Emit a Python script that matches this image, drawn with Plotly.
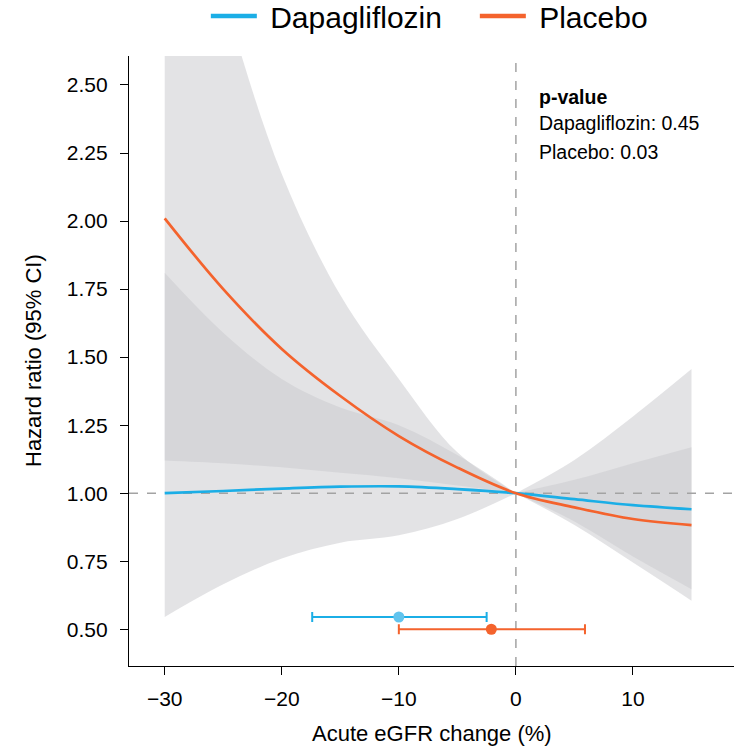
import plotly.graph_objects as go

# Acute eGFR change grid (%) at which the spline estimates are reported
egfr_change = [-30, -25, -20, -15, -10, -5, 0, 5, 10, 15]

# Dapagliflozin: hazard ratio and 95% CI
dapa_hr = [1.000, 1.008, 1.017, 1.024, 1.025, 1.015, 1.000, 0.978, 0.956, 0.941]
dapa_lo = [0.545, 0.665, 0.760, 0.818, 0.845, 0.905, 1.000, 0.883, 0.745, 0.605]
dapa_hi = [1.810, 1.590, 1.420, 1.315, 1.250, 1.140, 1.000, 1.122, 1.282, 1.456]

# Placebo: hazard ratio and 95% CI
plac_hr = [2.010, 1.750, 1.530, 1.357, 1.210, 1.094, 1.000, 0.948, 0.905, 0.883]
plac_lo = [1.120, 1.110, 1.095, 1.075, 1.055, 1.028, 1.000, 0.896, 0.767, 0.647]
plac_hi = [3.600, 2.830, 2.173, 1.728, 1.420, 1.150, 1.000, 1.049, 1.110, 1.169]

# Distribution of acute eGFR change by arm: median and interquartile range
arm_names = ["Dapagliflozin", "Placebo"]
change_mid = [-10.0, -2.1]
change_q1 = [-17.4, -10.0]
change_q3 = [-2.5, 5.9]

# p-values for the non-linear association
p_values = {"Dapagliflozin": "0.45", "Placebo": "0.03"}

BLUE = "#1BAEE6"
BLUE_PT = "#62C4EE"
ORANGE = "#F4632D"
BAND = "rgba(203,204,207,0.54)"
REF = "#A3A3A3"
FONT = "Liberation Sans, Arial, Helvetica, sans-serif"

X_RANGE = [-33.05, 18.63]
Y_RANGE = [0.365, 2.6065]
BAR_Y = [0.545, 0.50]

fig = go.Figure()

# Confidence bands, drawn separately either side of the reference point (0 %)
split = egfr_change.index(0)
for lo, hi in ((dapa_lo, dapa_hi), (plac_lo, plac_hi)):
    for sl in (slice(0, split + 1), slice(split, None)):
        xs = egfr_change[sl]
        fig.add_trace(go.Scatter(x=xs, y=lo[sl], mode="lines",
                                 line=dict(width=0, shape="spline", color=BAND),
                                 showlegend=False, hoverinfo="skip"))
        fig.add_trace(go.Scatter(x=xs, y=hi[sl], mode="lines", fill="tonexty",
                                 fillcolor=BAND,
                                 line=dict(width=0, shape="spline", color=BAND),
                                 showlegend=False, hoverinfo="skip"))

# Reference lines: HR = 1 and no eGFR change
fig.add_trace(go.Scatter(x=X_RANGE, y=[1, 1], mode="lines",
                         line=dict(color=REF, width=1.5, dash="dash"),
                         showlegend=False, hoverinfo="skip"))
fig.add_trace(go.Scatter(x=[0, 0], y=Y_RANGE, mode="lines",
                         line=dict(color=REF, width=1.5, dash="dash"),
                         showlegend=False, hoverinfo="skip"))

# Hazard ratio curves
fig.add_trace(go.Scatter(x=egfr_change, y=dapa_hr, mode="lines",
                         line=dict(color=BLUE, width=2.7, shape="spline"),
                         showlegend=False))
fig.add_trace(go.Scatter(x=egfr_change, y=plac_hr, mode="lines",
                         line=dict(color=ORANGE, width=2.7, shape="spline"),
                         showlegend=False))

# Median (IQR) of acute eGFR change per arm
for i, (col, pt) in enumerate(((BLUE, BLUE_PT), (ORANGE, ORANGE))):
    fig.add_trace(go.Scatter(
        x=[change_mid[i]], y=[BAR_Y[i]], mode="markers",
        marker=dict(color=pt, size=11),
        error_x=dict(type="data", symmetric=False,
                     array=[change_q3[i] - change_mid[i]],
                     arrayminus=[change_mid[i] - change_q1[i]],
                     color=col, thickness=2, width=5),
        showlegend=False))

# Legend entries
for name, col in zip(arm_names, (BLUE, ORANGE)):
    fig.add_trace(go.Scatter(x=[None], y=[None], mode="lines",
                             name="\u00a0" + name,
                             line=dict(color=col, width=4.5)))

# p-value box
ann_x = 1.8
fig.add_annotation(x=ann_x, y=2.456, text="<b>p-value</b>", showarrow=False,
                   xanchor="left", yanchor="middle", font=dict(size=19.5))
for name, yv in zip(arm_names, (2.361, 2.254)):
    fig.add_annotation(x=ann_x, y=yv, text=f"{name}: {p_values[name]}",
                       showarrow=False, xanchor="left", yanchor="middle",
                       font=dict(size=19.5))

# Axis titles
fig.add_annotation(xref="paper", yref="paper", x=0.5, y=0, yshift=-67,
                   text="Acute eGFR change (%)", showarrow=False,
                   xanchor="center", yanchor="middle", font=dict(size=22))
fig.add_annotation(xref="paper", yref="paper", x=0, y=0.5, xshift=-96,
                   text="Hazard ratio (95% CI)", showarrow=False, textangle=-90,
                   xanchor="center", yanchor="middle", font=dict(size=22))

axis_common = dict(showgrid=False, zeroline=False, showline=True,
                   linecolor="black", linewidth=1.4, ticks="outside",
                   ticklen=8, tickwidth=1.4, tickcolor="black",
                   tickfont=dict(size=21, color="black"))

fig.update_layout(
    width=734, height=747,
    margin=dict(l=129, r=0, t=56, b=81, autoexpand=False),
    paper_bgcolor="white", plot_bgcolor="white",
    font=dict(family=FONT, color="black"),
    xaxis=dict(range=X_RANGE, tickvals=[-30, -20, -10, 0, 10],
               ticklabelstandoff=6, **axis_common),
    yaxis=dict(range=Y_RANGE, tickvals=[0.5, 0.75, 1.0, 1.25, 1.5, 1.75, 2.0, 2.25, 2.5],
               tickformat=".2f", ticklabelstandoff=8, **axis_common),
    legend=dict(orientation="h", x=0.127, xanchor="left", y=1.0656,
                yanchor="middle", font=dict(size=30), bgcolor="rgba(0,0,0,0)",
                itemwidth=46, traceorder="normal",
                entrywidth=208, entrywidthmode="pixels"),
    showlegend=True,
)

fig.write_html("out.html")
